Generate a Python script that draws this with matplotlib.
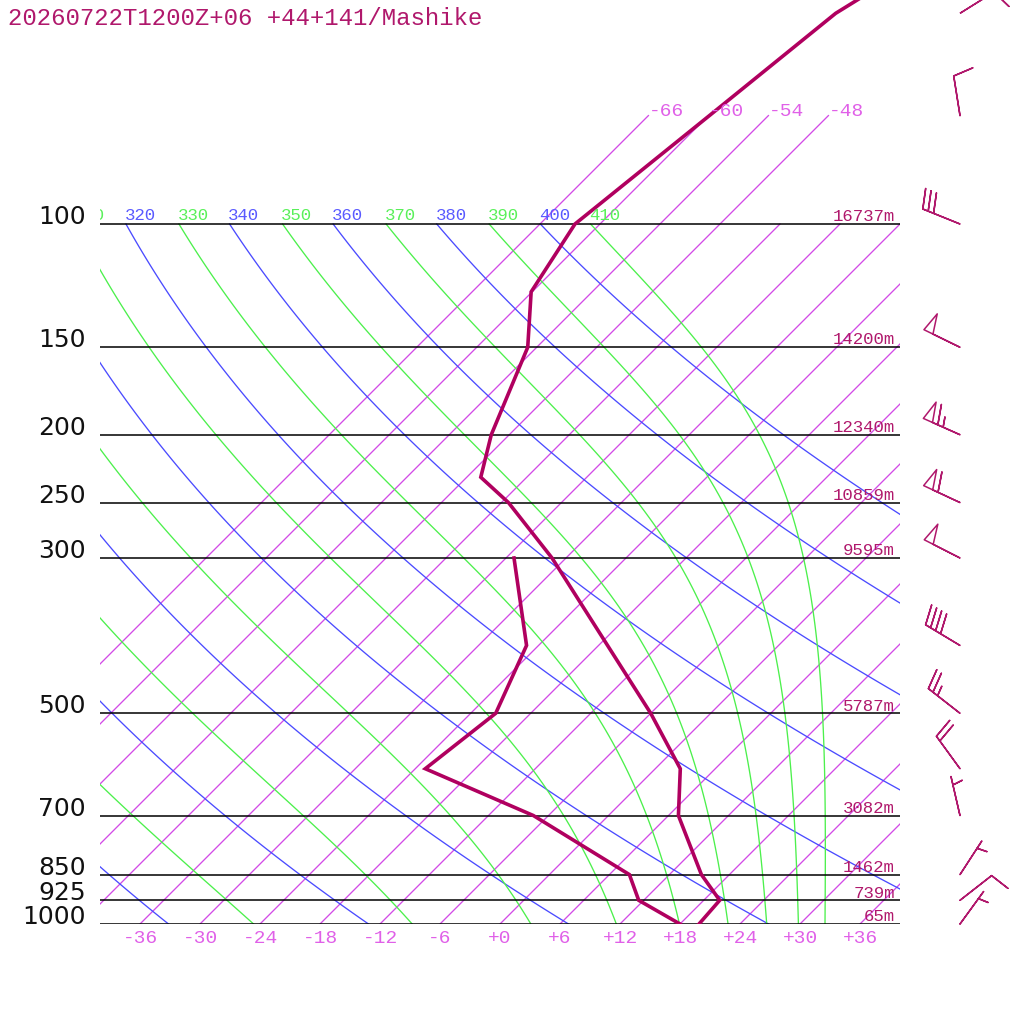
import numpy as np
import matplotlib.pyplot as plt

# sounding: pressure levels (hPa), temperature and dew point (deg C)
plev = [1000, 925, 850, 700, 600, 500, 400, 300, 250, 230, 200, 150, 125, 100, 70, 50, 30]
temp = [19.9, 19.6, 15.2, 7.0, 2.5, -6.0, -17.1, -31.4, -41.3, -46.6, -49.8, -54.9, -60.1, -62.5, -59.9, -57.5, -47.9]
dew_p = [1000, 925, 850, 700, 600, 500, 400, 300]
dewpt = [18.0, 11.5, 8.0, -7.5, -23.0, -21.5, -25.2, -35.2]

# winds (direction deg, speed kt)
wind_p = [1000, 925, 850, 700, 600, 500, 400, 300, 250, 200, 150, 100, 70, 50]
wind_dir = [36, 52, 33, 347, 324, 308, 301, 297, 295, 294, 296, 292, 351, 58]
wind_spd = [5, 10, 5, 5, 20, 25, 40, 50, 60, 65, 50, 30, 10, 10]

# labelled pressure lines and geopotential heights
lines_p = [100, 150, 200, 250, 300, 500, 700, 850, 925, 1000]
heights = [16737, 14200, 12340, 10859, 9595, 5787, 3082, 1462, 739, 65]

isotherms = list(range(-66, 37, 6))
iso_top_labels = [-66, -60, -54, -48]
bottom_labels = list(range(-36, 37, 6))
dry_theta = list(range(240, 401, 20))
moist_theta = list(range(250, 411, 20))

title = "20260722T1200Z+06 +44+141/Mashike"

SKEW = 30.4
PTOP = 1000 * np.exp(-924 / 304)
MONO = "Liberation Mono"
DARK = "#b0005f"
LABEL = "#b0186c"
BLUE = "#4b4bff"
GREEN = "#4cf04c"
PURP = "#d24ce6"


def skew(t, p):
    return np.asarray(t, float) + SKEW * np.log(1000.0 / np.asarray(p, float))


def thetae_sat(tc, p):
    tk = tc + 273.15
    es = 6.112 * np.exp(17.67 * tc / (tc + 243.5))
    r = 622.0 * es / (p - es)
    thl = tk * (1000.0 / (p - es)) ** 0.2854
    return thl * np.exp((3.376 / tk - 0.00254) * r * (1 + 0.81e-3 * r))


def moist_t(the, p):
    lo = np.full_like(p, -120.0)
    hi = np.full_like(p, 45.0)
    for _ in range(60):
        mid = (lo + hi) / 2
        big = thetae_sat(mid, p) > the
        hi = np.where(big, mid, hi)
        lo = np.where(big, lo, mid)
    return (lo + hi) / 2


def theta_label(ax, th, x, col):
    # only labels that reach into the plot (the first one is cut by the edge)
    if x < -44:
        return
    ax.annotate(str(th), (x, 100), xytext=(-1, 3), textcoords="offset points",
                color=col, fontsize=12.5, family=MONO, ha="left", va="baseline",
                annotation_clip=False, clip_on=True)


fig = plt.figure(figsize=(10.24, 10.24), dpi=100)
ax = fig.add_axes([100 / 1024, 100 / 1024, 800 / 1024, 924 / 1024])
ax.set_yscale("log")
ax.set_ylim(1000, PTOP)
ax.set_xlim(-40, 40)
ax.axis("off")

pp = np.geomspace(1000, 100, 120)

# isotherms
for t in isotherms:
    top = 70 if t <= -48 else 100
    ax.plot(skew([t, t], [1000, top]), [1000, top], color=PURP, lw=0.95)
for t in iso_top_labels:
    ax.text(skew(t, 70), 70, f"{t:+d}", color="#e060e8", fontsize=14,
            family=MONO, ha="left", va="baseline")

# dry and moist adiabats
for th in dry_theta:
    tt = th * (pp / 1000.0) ** 0.2857 - 273.15
    ax.plot(skew(tt, pp), pp, color=BLUE, lw=0.95)
    theta_label(ax, th, skew(tt[-1], 100), "#5a5aff")
for th in moist_theta:
    tt = moist_t(th, pp)
    ax.plot(skew(tt, pp), pp, color=GREEN, lw=0.95)
    theta_label(ax, th, skew(tt[-1], 100), "#5af05a")

# pressure lines and labels
for p, h in zip(lines_p, heights):
    ax.plot([-40, 40], [p, p], color="black", lw=1.1)
    ax.text(-41.4, p, str(p), fontsize=18, family="DejaVu Sans", color="#111111",
            ha="right", va="baseline")
    ax.annotate(f"{h}m", (39.5, p), xytext=(0, 2), textcoords="offset points",
                color=LABEL, fontsize=12.5, family=MONO, ha="right", va="baseline")

for t in bottom_labels:
    ax.annotate(f"{t:+d}", (t, 1000), xytext=(0, -4), textcoords="offset points",
                color="#e060e8", fontsize=14, family=MONO, ha="center", va="top",
                annotation_clip=False)

# temperature and dew point
ax.plot(skew(temp, plev), plev, color=DARK, lw=2.6, solid_joinstyle="miter")
ax.plot(skew(dewpt, dew_p), dew_p, color=DARK, lw=2.6, solid_joinstyle="miter")

# wind barbs
wd = np.radians(wind_dir)
spd = np.asarray(wind_spd, float)
u = -spd * np.sin(wd)
v = -spd * np.cos(wd)
b = ax.barbs(np.full(len(wind_p), 46.0), wind_p, u, v, length=7.6, pivot="tip",
             barbcolor=LABEL, flagcolor="none", linewidth=1.1,
             sizes=dict(spacing=0.145, height=0.5, width=0.25))
b.set_clip_on(False)

fig.text(8 / 1024, 1 - 25 / 1024, title, color=LABEL, fontsize=17.3, family=MONO,
         ha="left", va="baseline")

fig.savefig("out.png", dpi=100, facecolor="white")
